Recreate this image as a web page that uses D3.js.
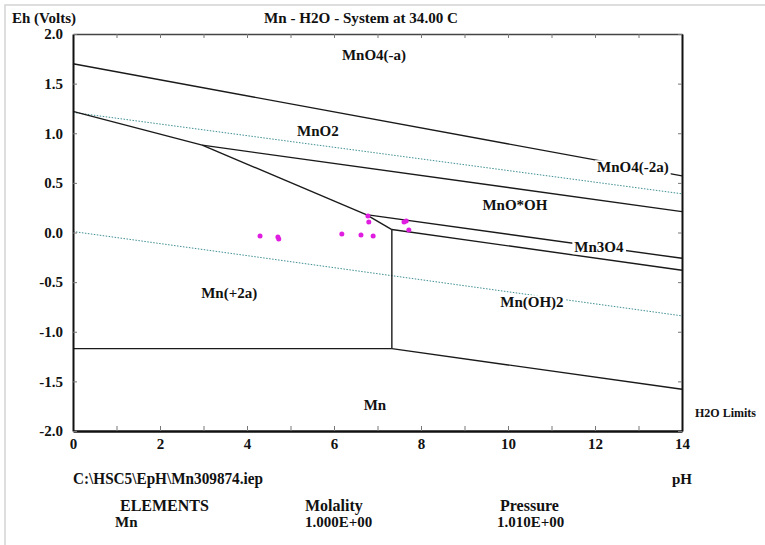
<!DOCTYPE html>
<html>
<head>
<meta charset="utf-8">
<script src="https://cdn.jsdelivr.net/npm/d3@7"></script>
<style>
  body { margin: 0; background: #fff; }
  svg { display: block; }
  text { font-family: "Liberation Serif", "Times New Roman", serif; font-weight: bold; fill: #111; }
</style>
</head>
<body>
<div id="chart"></div>
<script>
// axis ticks
const phTicks = [0, 1, 2, 3, 4, 5, 6, 7, 8, 9, 10, 11, 12, 13, 14];
const phLabels = [0, 2, 4, 6, 8, 10, 12, 14];
const ehTicks = [-2.0, -1.5, -1.0, -0.5, 0.0, 0.5, 1.0, 1.5, 2.0];

// stability field boundaries: [pH1, Eh1, pH2, Eh2]
const boundaries = [
  [0, 1.70, 14, 0.57],        // MnO4(-a) / MnO2
  [0, 1.22, 2.97, 0.88],      // Mn(+2a) / MnO2
  [2.97, 0.88, 14, 0.21],     // MnO2 / MnO*OH
  [2.97, 0.88, 6.74, 0.18],   // Mn(+2a) / MnO*OH
  [6.74, 0.18, 14, -0.26],    // MnO*OH / Mn3O4
  [6.74, 0.18, 7.33, 0.03],   // Mn(+2a) / Mn3O4
  [7.33, 0.03, 14, -0.38],    // Mn3O4 / Mn(OH)2
  [7.33, 0.03, 7.33, -1.17],  // Mn(+2a) / Mn(OH)2
  [0, -1.17, 7.33, -1.17],    // Mn(+2a) / Mn
  [7.33, -1.17, 14, -1.58]    // Mn(OH)2 / Mn
];

// water stability limits
const waterPH = [0, 14];
const waterO2Eh = [1.21, 0.39];
const waterH2Eh = [0.01, -0.84];

// measured samples
const samplePH = [4.30, 4.71, 4.73, 6.18, 6.62, 6.90, 6.78, 6.80, 7.61, 7.66, 7.72];
const sampleEh = [-0.035, -0.045, -0.066, -0.015, -0.025, -0.035, 0.166, 0.106, 0.106, 0.116, 0.025];

// species field labels
const speciesNames = ['MnO4(-a)', 'MnO2', 'MnO4(-2a)', 'MnO*OH', 'Mn3O4', 'Mn(+2a)', 'Mn(OH)2', 'Mn'];
const speciesPH = [6.92, 5.63, 12.87, 10.16, 12.09, 3.59, 10.55, 6.94];
const speciesEh = [1.79, 1.03, 0.66, 0.28, -0.146, -0.61, -0.70, -1.74];

const W = 765, H = 545;
const margin = { top: 34, right: 83, bottom: 114, left: 73 };
const width = W - margin.left - margin.right;
const height = H - margin.top - margin.bottom;

const root = d3.select('#chart').append('svg')
  .attr('width', W)
  .attr('height', H);

// faint frame of the screenshot
root.append('path')
  .attr('d', `M5,${H}V5H${W}`)
  .attr('fill', 'none')
  .attr('stroke', '#d4d4d4')
  .attr('stroke-width', 1.5);

const svg = root.append('g')
  .attr('transform', `translate(${margin.left},${margin.top})`);

const x = d3.scaleLinear().domain([0, 14]).range([0, width]);
const y = d3.scaleLinear().domain([-2, 2]).range([height, 0]);

// water limits (dotted)
[waterO2Eh, waterH2Eh].forEach(eh => {
  svg.append('path')
    .datum(waterPH.map((p, i) => [p, eh[i]]))
    .attr('d', d3.line().x(d => x(d[0])).y(d => y(d[1])))
    .attr('fill', 'none')
    .attr('stroke', '#3f8f94')
    .attr('stroke-width', 1)
    .attr('stroke-dasharray', '1.5,1.5');
});

// boundaries
svg.selectAll('.boundary')
  .data(boundaries)
  .enter()
  .append('line')
  .attr('class', 'boundary')
  .attr('x1', d => x(d[0]))
  .attr('y1', d => y(d[1]))
  .attr('x2', d => x(d[2]))
  .attr('y2', d => y(d[3]))
  .attr('stroke', '#1a1a1a')
  .attr('stroke-width', 1.4);

// labels with white backing so lines break around them
const labels = svg.selectAll('.species')
  .data(speciesNames)
  .enter()
  .append('g')
  .attr('class', 'species');

labels.append('text')
  .attr('x', (d, i) => x(speciesPH[i]))
  .attr('y', (d, i) => y(speciesEh[i]))
  .attr('dy', '0.35em')
  .attr('text-anchor', 'middle')
  .style('font-size', '15px')
  .text(d => d);

labels.each(function () {
  const g = d3.select(this);
  const b = g.select('text').node().getBBox();
  g.insert('rect', 'text')
    .attr('x', b.x - 2)
    .attr('y', b.y + 1)
    .attr('width', b.width + 4)
    .attr('height', b.height - 2)
    .attr('fill', '#fff');
});

// samples
svg.selectAll('.sample')
  .data(samplePH)
  .enter()
  .append('circle')
  .attr('class', 'sample')
  .attr('cx', d => x(d))
  .attr('cy', (d, i) => y(sampleEh[i]))
  .attr('r', 2.5)
  .attr('fill', '#e01ee0');

// axes
const fmtPH = d => (phLabels.includes(d) ? d : '');

const axBottom = svg.append('g')
  .attr('transform', `translate(0,${height})`)
  .call(d3.axisBottom(x).tickValues(phTicks).tickFormat(fmtPH).tickSize(-5).tickSizeOuter(0).tickPadding(7));
axBottom.select('.domain').attr('stroke', '#111').attr('stroke-width', 2.5);

const axTop = svg.append('g')
  .call(d3.axisTop(x).tickValues(phTicks).tickFormat('').tickSize(-4).tickSizeOuter(0));
axTop.select('.domain').attr('stroke', '#444').attr('stroke-width', 1.5);

const axLeft = svg.append('g')
  .call(d3.axisLeft(y).tickValues(ehTicks).tickFormat(d => d.toFixed(1)).tickSize(-4).tickSizeOuter(0).tickPadding(10));
axLeft.select('.domain').attr('stroke', '#111').attr('stroke-width', 2);

const axRight = svg.append('g')
  .attr('transform', `translate(${width},0)`)
  .call(d3.axisRight(y).tickValues(ehTicks).tickFormat('').tickSize(-4).tickSizeOuter(0));
axRight.select('.domain').attr('stroke', '#111').attr('stroke-width', 2);

svg.selectAll('.tick line').attr('stroke', '#777');
svg.selectAll('.tick text')
  .attr('fill', '#111')
  .style('font-family', '"Liberation Serif", serif')
  .style('font-weight', 'bold')
  .style('font-size', '15px');

// header and footer text
root.append('text').attr('x', 12).attr('y', 23).style('font-size', '15px').text('Eh (Volts)');
root.append('text').attr('x', 361).attr('y', 23).attr('text-anchor', 'middle').style('font-size', '15px')
  .attr('textLength', 194).attr('lengthAdjust', 'spacingAndGlyphs')
  .text('Mn - H2O - System at 34.00 C');
root.append('text').attr('x', 695).attr('y', 417).style('font-size', '12px').text('H2O Limits');
root.append('text').attr('x', 73).attr('y', 484).style('font-size', '16px')
  .attr('textLength', 190).attr('lengthAdjust', 'spacingAndGlyphs')
  .text('C:\\HSC5\\EpH\\Mn309874.iep');
root.append('text').attr('x', 682).attr('y', 484).attr('text-anchor', 'middle').style('font-size', '15px').text('pH');

const footCols = [120, 305, 500];
const footHead = ['ELEMENTS', 'Molality', 'Pressure'];
const footVals = ['Mn', '1.000E+00', '1.010E+00'];
footHead.forEach((t, i) => {
  root.append('text').attr('x', footCols[i]).attr('y', 511).style('font-size', '16px').text(t);
  root.append('text').attr('x', footCols[i] - (i === 0 ? 5 : (i === 2 ? 3 : 0))).attr('y', 527).style('font-size', '15px').text(footVals[i]);
});
</script>
</body>
</html>
